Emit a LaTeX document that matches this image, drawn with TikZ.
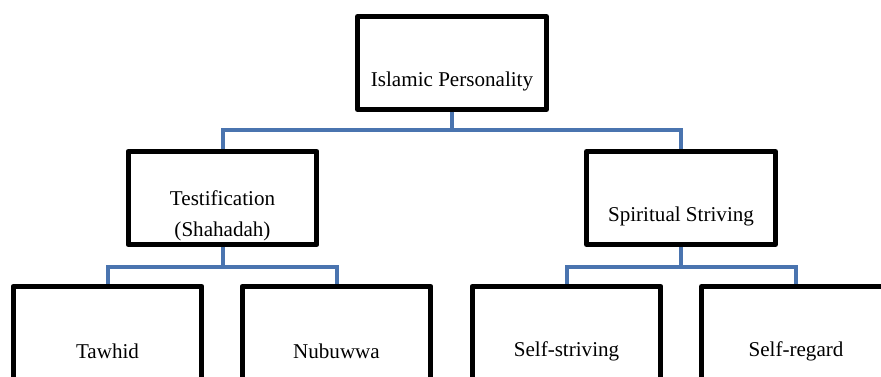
\documentclass[tikz,border=0pt]{standalone}
\usepackage{fontspec}
\setmainfont{Liberation Serif}
\usetikzlibrary{positioning}

\definecolor{linkblue}{RGB}{74,116,175}

\tikzset{
  box/.style={draw, line width=0.1cm, line join=round, minimum width=3.78cm,
    minimum height=1.86cm, inner sep=0pt},
  boxtext/.style={yshift=-0.36cm, align=center, font=\fontsize{12}{17.6}\selectfont},
  link/.style={draw=linkblue, line width=0.08cm}
}

\begin{document}
\begin{tikzpicture}[x=0.02cm,y=0.02cm]
    %% frame of the picture
    \clip (0,0) rectangle (881,376);

    %% define levels
    \def\Yi{313};
    \def\Yii{178};
    \def\Yiii{43};

    %% boxes
    \node[box, label={[boxtext]center:Islamic Personality}] (islam) at (452,\Yi) {};

    \node[box, label={[boxtext]center:Testification\\(Shahadah)}] (shahada) at (222.5,\Yii) {};
    \node[box, label={[boxtext]center:Spiritual Striving}] (striving) at (681,\Yii) {};

    \node[box, label={[boxtext]center:Tawhid}] (tawhid) at (107.5,\Yiii) {};
    \node[box, label={[boxtext]center:Nubuwwa}] (nubuwwa) at (336.5,\Yiii) {};
    \node[box, label={[boxtext]center:Self-striving}] (selfstriving) at (566.5,\Yiii) {};
    \node[box, label={[boxtext]center:Self-regard}] (selfregard) at (796,\Yiii) {};

    %% connectors
    \draw[link] (islam.south) -- ++(0,-18) -| (shahada.north);
    \draw[link] (islam.south) -- ++(0,-18) -| (striving.north);

    \draw[link] (shahada.south) -- ++(0,-20) -| (tawhid.north);
    \draw[link] (shahada.south) -- ++(0,-20) -| (nubuwwa.north);

    \draw[link] (striving.south) -- ++(0,-20) -| (selfstriving.north);
    \draw[link] (striving.south) -- ++(0,-20) -| (selfregard.north);
\end{tikzpicture}
\end{document}
